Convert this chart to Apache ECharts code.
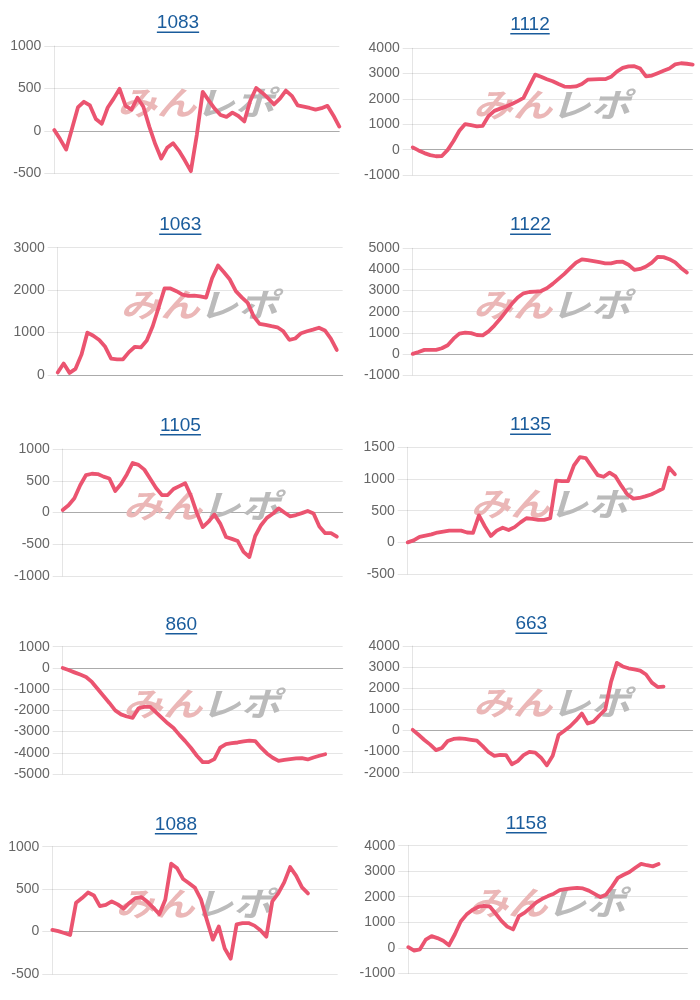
<!DOCTYPE html>
<html><head><meta charset="utf-8">
<script src="https://cdn.jsdelivr.net/npm/echarts@6/dist/echarts.min.js"></script>
<style>html,body{margin:0;padding:0;background:#fff}#c{width:700px;height:1000px}</style>
</head><body><div id="c"></div>
<script>
// ---- data ----
const titles = ['1083','1112','1063','1122','1105','1135','860','663','1088','1158'];
const categories = [1,2,3,4,5,6,7,8,9,10,11,12,13,14,15,16,17,18,19,20,21,22,23,24,25,26,27,28,29,30,31,32,33,34,35,36,37,38,39,40,41,42,43,44,45,46,47,48,49];
const s1083 = [10,-100,-220,30,280,343,300,140,85,275,380,495,295,250,390,285,50,-155,-325,-200,-145,-235,-350,-475,-50,460,360,263,187,165,215,175,112,355,505,450,385,312,380,475,413,300,285,270,250,267,295,182,50];
const s1112 = [90,-30,-135,-215,-260,-250,-10,340,745,1010,965,920,940,1330,1530,1620,1700,1800,1915,2045,2510,2960,2880,2780,2700,2590,2490,2475,2495,2590,2760,2775,2780,2780,2875,3080,3225,3285,3295,3200,2890,2925,3020,3110,3205,3365,3410,3390,3360];
const s1063 = [60,270,50,145,480,1000,925,825,665,385,370,370,540,665,650,815,1150,1590,2040,2040,1975,1895,1865,1870,1855,1825,2280,2580,2420,2250,1975,1830,1700,1385,1205,1180,1150,1125,1030,830,860,985,1030,1070,1115,1050,860,590,null];
const s1122 = [0,90,190,190,190,265,410,720,960,1010,985,895,875,1065,1340,1660,2015,2370,2670,2870,2930,2950,2975,3110,3315,3550,3790,4060,4320,4480,4435,4395,4340,4290,4290,4355,4365,4220,3980,4025,4140,4325,4590,4580,4485,4330,4070,3850,null];
const s1105 = [40,115,225,430,590,610,605,565,535,340,450,600,780,750,675,530,385,275,275,370,415,460,260,-10,-230,-145,-30,-175,-385,-415,-450,-620,-700,-370,-200,-85,-20,65,0,-60,-40,-10,25,-15,-220,-325,-325,-380,null];
const s1135 = [0,30,85,105,125,155,170,185,185,185,155,150,425,250,100,185,230,195,240,315,380,370,355,355,380,975,965,965,1215,1345,1330,1195,1060,1035,1100,1040,890,755,690,700,725,755,800,850,1180,1075,null,null,null];
const s860 = [0,-100,-210,-315,-425,-660,-995,-1320,-1650,-2000,-2190,-2290,-2350,-1900,-1835,-1840,-2090,-2355,-2610,-2830,-3155,-3450,-3775,-4140,-4440,-4440,-4300,-3760,-3590,-3550,-3515,-3465,-3425,-3450,-3760,-4030,-4235,-4385,-4340,-4295,-4260,-4255,-4315,-4220,-4140,-4070,null,null,null];
const s663 = [30,-205,-450,-670,-930,-830,-500,-400,-370,-400,-440,-480,-740,-1030,-1200,-1160,-1165,-1600,-1455,-1170,-1015,-1050,-1290,-1650,-1200,-220,-10,200,475,800,330,420,710,985,2300,3200,3030,2945,2895,2835,2650,2265,2055,2080,null,null,null,null,null];
const s1088 = [20,5,-17,-40,340,395,460,425,300,315,355,320,270,340,395,405,350,280,205,375,800,745,620,570,515,380,135,-95,60,-200,-320,85,100,100,70,15,-60,355,450,580,760,660,520,450,null,null,null,null,null];
const s1158 = [25,-110,-60,320,455,380,275,100,530,1030,1300,1480,1600,1640,1615,1340,1055,830,720,1240,1375,1575,1780,1920,2025,2120,2255,2300,2325,2345,2325,2240,2110,1985,2090,2395,2740,2860,2970,3135,3290,3235,3190,3280,null,null,null,null,null];
const seriesData = [s1083,s1112,s1063,s1122,s1105,s1135,s860,s663,s1088,s1158];
const yMin  = [-500,-1000,0,-1000,-1000,-500,-5000,-2000,-500,-1000];
const yMax  = [1000,4000,3000,5000,1000,1500,1000,4000,1000,4000];
const yStep = [500,1000,1000,1000,500,500,1000,1000,500,1000];

// ---- layout (pixels) ----
const layout = [
  {l:54.3, r:339.3, t:46,    b:173.3, tx:178,   ty:23},
  {l:412.7,r:692.7, t:48.3,  b:175,   tx:530,   ty:24.5},
  {l:57.7, r:342.7, t:247.7, b:375,   tx:180.3, ty:225},
  {l:412.7,r:692.7, t:248.3, b:375,   tx:530.5, ty:225},
  {l:62.7, r:342.7, t:449,   b:576,   tx:180.5, ty:425.5},
  {l:407.7,r:692.7, t:447.3, b:574,   tx:530.5, ty:425},
  {l:62.7, r:342.7, t:646.7, b:774,   tx:181.3, ty:624.5},
  {l:412.7,r:692.7, t:646,   b:772.7, tx:531.3, ty:624},
  {l:52.3, r:337.7, t:846.7, b:974,   tx:176,   ty:824.5},
  {l:408.3,r:687.7, t:845.7, b:973.3, tx:526.3, ty:823.5}
];
const FONT = '"Liberation Sans", Arial, Helvetica, sans-serif';
const TITLE_FONT = '19px "Liberation Sans", Arial, sans-serif';
const WM_FONT = 'italic bold 33px "Noto Sans CJK JP", sans-serif';
const GRID_C = 'rgba(0,0,0,0.1)';
const ZERO_C = 'rgba(0,0,0,0.25)';
const LINE_C = '#eb5470';

const meas = document.createElement('canvas').getContext('2d');
meas.font = TITLE_FONT;

const grids = [], xAxes = [], yAxes = [], series = [], graphics = [];
layout.forEach((p, i) => {
  grids.push({left:p.l, top:p.t, width:p.r - p.l, height:p.b - p.t, containLabel:false});
  xAxes.push({
    type:'category', gridIndex:i, data:categories, boundaryGap:false,
    axisLabel:{show:false}, axisTick:{show:false}, splitLine:{show:false},
    axisLine:{show:true, onZero:true, lineStyle:{color:ZERO_C, width:1}}
  });
  yAxes.push({
    type:'value', gridIndex:i, min:yMin[i], max:yMax[i], interval:yStep[i],
    axisLine:{show:true, lineStyle:{color:GRID_C, width:1}},
    axisTick:{show:true, length:10, lineStyle:{color:GRID_C}},
    axisLabel:{color:'#666', fontSize:14, fontFamily:FONT, margin:13,
      formatter:(v) => String(v)},
    splitLine:{show:true, lineStyle:{color:GRID_C, width:1}}
  });
  series.push({
    type:'line', xAxisIndex:i, yAxisIndex:i, data:seriesData[i],
    showSymbol:false, connectNulls:false, z:5, animation:false,
    lineStyle:{color:LINE_C, width:3.8, cap:'round', join:'round'},
    itemStyle:{color:LINE_C}
  });
  // title + underline
  const w = meas.measureText(titles[i]).width;
  graphics.push({
    type:'text', x:p.tx, y:p.ty, z:10,
    style:{text:titles[i], x:0, y:0, fill:'#1a5c9c', font:TITLE_FONT,
      align:'center', verticalAlign:'middle', textAlign:'center', textVerticalAlign:'middle'}
  });
  graphics.push({
    type:'rect', z:10,
    shape:{x:p.tx - w/2, y:p.ty + 8.5, width:w, height:1.4},
    style:{fill:'#1a5c9c'}
  });
  // watermark
  const cx = (p.l + p.r)/2, cy = (p.t + p.b)/2 - 7;
  graphics.push({
    type:'text', x:cx - 40, y:cy, scaleX:1.2, z:1,
    style:{text:'みん', x:0, y:0, fill:'#ebb7b7', font:WM_FONT,
      align:'center', verticalAlign:'middle', textAlign:'center', textVerticalAlign:'middle'}
  });
  graphics.push({
    type:'text', x:cx + 38, y:cy, scaleX:1.2, z:1,
    style:{text:'レポ', x:0, y:0, fill:'#bbbbbb', font:WM_FONT,
      align:'center', verticalAlign:'middle', textAlign:'center', textVerticalAlign:'middle'}
  });
});

const chart = echarts.init(document.getElementById('c'));
chart.setOption({
  animation:false,
  backgroundColor:'#fff',
  grid:grids, xAxis:xAxes, yAxis:yAxes, series:series,
  graphic:{elements:graphics}
});
</script>
</body></html>
